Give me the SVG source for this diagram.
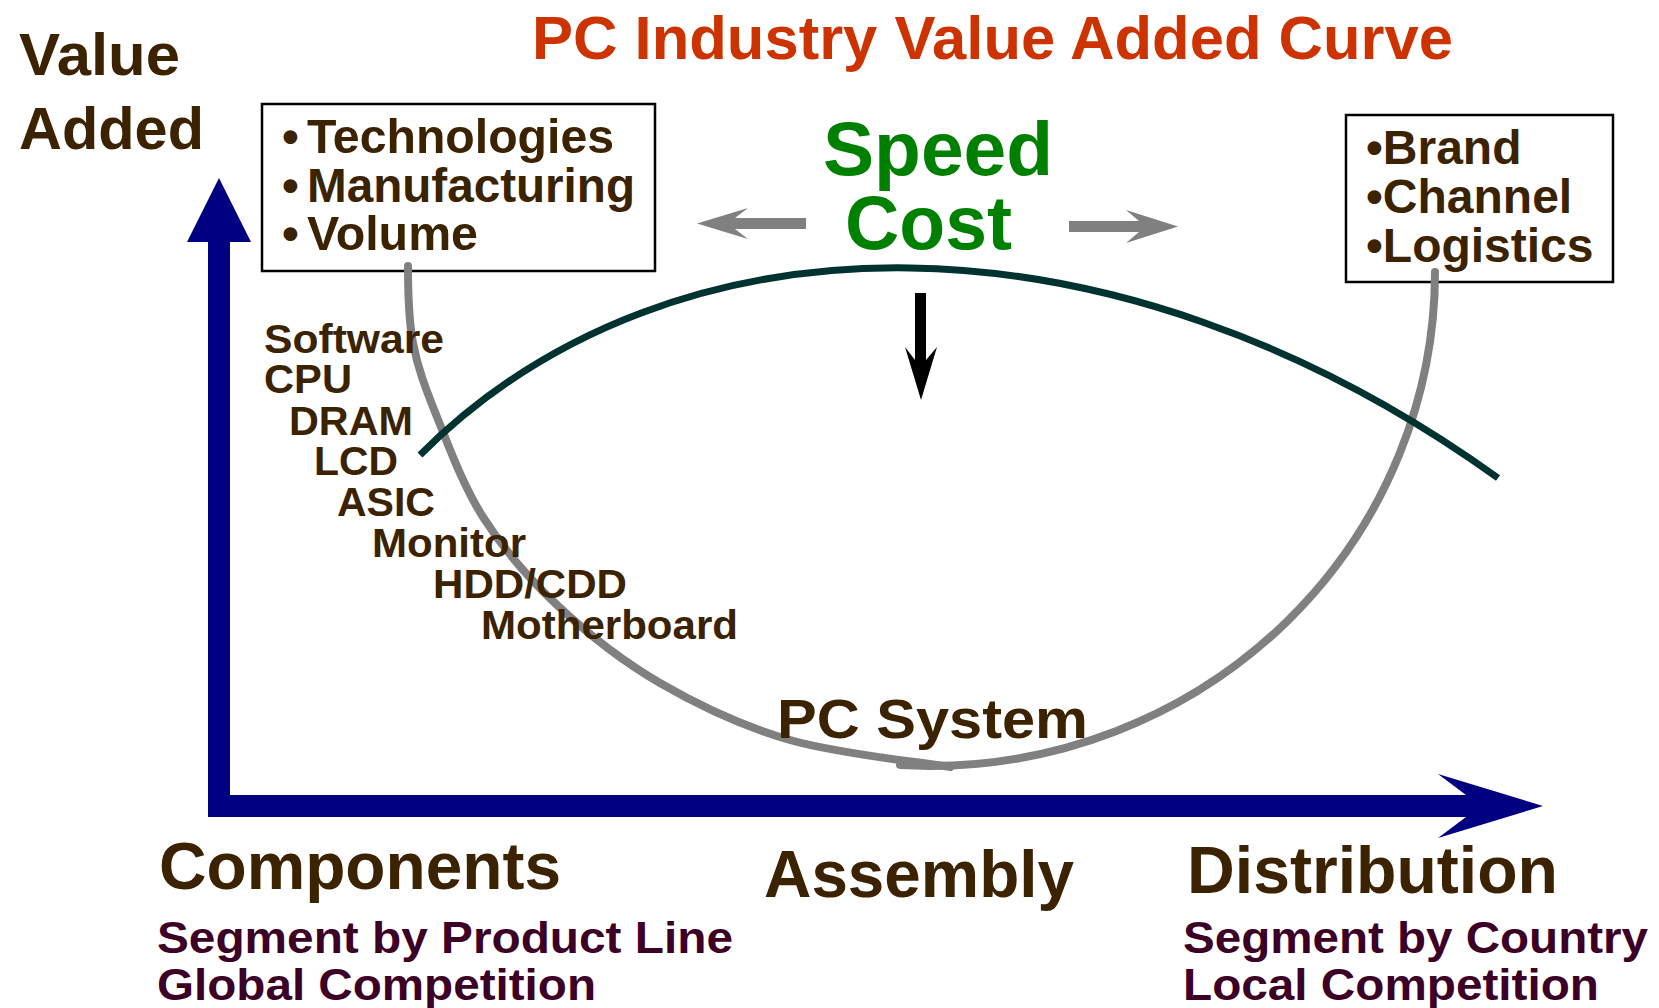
<svg xmlns="http://www.w3.org/2000/svg" width="1659" height="1008" viewBox="0 0 1659 1008">
<style>
text{font-family:"Liberation Sans",Arial,Helvetica,sans-serif;font-weight:bold}
.br{fill:#3b2200}
.mr{fill:#3c0026}
.box{fill:#fff;stroke:#000;stroke-width:2.5}
</style>
<rect width="1659" height="1008" fill="#fff"/>
<g id="title"><text x="532" y="59" font-size="61" fill="#cc3300" textLength="921" lengthAdjust="spacingAndGlyphs">PC Industry Value Added Curve</text></g>
<g id="y-label" font-size="60">
<text class="br" x="19" y="75" textLength="161" lengthAdjust="spacingAndGlyphs">Value</text>
<text class="br" x="19" y="149" textLength="185" lengthAdjust="spacingAndGlyphs">Added</text>
</g>
<g id="box-left">
<rect class="box" x="262" y="104" width="393" height="167"/>
<g font-size="48">
<text class="br" x="282" y="153">•</text><text class="br" x="307" y="153" textLength="307" lengthAdjust="spacingAndGlyphs">Technologies</text>
<text class="br" x="282" y="202">•</text><text class="br" x="307" y="202" textLength="328" lengthAdjust="spacingAndGlyphs">Manufacturing</text>
<text class="br" x="282" y="250">•</text><text class="br" x="307" y="250" textLength="171" lengthAdjust="spacingAndGlyphs">Volume</text>
</g>
</g>
<g id="box-right">
<rect class="box" x="1346" y="115" width="267" height="167"/>
<g font-size="48">
<text class="br" x="1366" y="164">•Brand</text>
<text class="br" x="1366" y="213">•Channel</text>
<text class="br" x="1366" y="262">•Logistics</text>
</g>
</g>
<g id="connectors">
<g id="axes" fill="#000080">
<path d="M208 242 H230 V795 H1466 L1438 774 L1543 806 L1438 838 L1466 817 H208 Z"/>
<polygon points="187,242 219,178 251,242"/>
</g>
<g id="gray-arrows" fill="#808080">
<polygon points="697,223.5 748,208 735,218 806,218 806,229 735,229 748,239"/>
<polygon points="1069,221 1139,221 1126,210 1178,226.5 1126,243 1139,232 1069,232"/>
</g>
<polygon id="down-arrow" fill="#000" points="915,293 926,293 926,360 937,347 921,400 905,347 915,360"/>
<g id="gray-curve" fill="none" stroke="#808080" stroke-width="8" stroke-linecap="round">
<path d="M408 266 C408 290 408.2 317.8 413 343 C417.8 368.2 425.3 388 437 417 C448.7 446 463 485.7 483 517 C503 548.3 527.5 577.3 557 605 C586.5 632.7 621.2 660.5 660 683 C698.8 705.5 741.7 726 790 740 C838.3 754 923.3 762.5 950 767"/>
<path d="M900 765 L930 766 A505 494 0 0 0 1435 272"/>
</g>
<path id="dark-curve" fill="none" stroke="#003330" stroke-width="7" d="M420 455 C673 202 1114 201.5 1498 478"/>
</g>
<g id="speed-cost" font-size="76">
<text x="823" y="175" fill="#008000" textLength="230" lengthAdjust="spacingAndGlyphs">Speed</text>
<text x="845" y="249" fill="#008000" textLength="167" lengthAdjust="spacingAndGlyphs">Cost</text>
</g>
<g id="component-list" font-size="40">
<text class="br" x="264" y="353" textLength="180" lengthAdjust="spacingAndGlyphs">Software</text>
<text class="br" x="264" y="393" textLength="88" lengthAdjust="spacingAndGlyphs">CPU</text>
<text class="br" x="289" y="435" textLength="124" lengthAdjust="spacingAndGlyphs">DRAM</text>
<text class="br" x="314" y="475" textLength="84" lengthAdjust="spacingAndGlyphs">LCD</text>
<text class="br" x="337" y="516" textLength="98" lengthAdjust="spacingAndGlyphs">ASIC</text>
<text class="br" x="372" y="557" textLength="154" lengthAdjust="spacingAndGlyphs">Monitor</text>
<text class="br" x="433" y="598" textLength="194" lengthAdjust="spacingAndGlyphs">HDD/CDD</text>
<text class="br" x="481" y="639" textLength="257" lengthAdjust="spacingAndGlyphs">Motherboard</text>
</g>
<g id="pc-system"><text class="br" x="777" y="738" font-size="55" textLength="311" lengthAdjust="spacingAndGlyphs">PC System</text></g>
<g id="stage-components">
<text class="br" x="159" y="889" font-size="66" textLength="402" lengthAdjust="spacingAndGlyphs">Components</text>
<text class="mr" x="157" y="953" font-size="44" textLength="576" lengthAdjust="spacingAndGlyphs">Segment by Product Line</text>
<text class="mr" x="157" y="1000" font-size="44" textLength="439" lengthAdjust="spacingAndGlyphs">Global Competition</text>
</g>
<g id="stage-assembly"><text class="br" x="764" y="897" font-size="66" textLength="310" lengthAdjust="spacingAndGlyphs">Assembly</text></g>
<g id="stage-distribution">
<text class="br" x="1187" y="893" font-size="66" textLength="371" lengthAdjust="spacingAndGlyphs">Distribution</text>
<text class="mr" x="1183" y="953" font-size="44" textLength="465" lengthAdjust="spacingAndGlyphs">Segment by Country</text>
<text class="mr" x="1183" y="1000" font-size="44" textLength="416" lengthAdjust="spacingAndGlyphs">Local Competition</text>
</g>
</svg>
